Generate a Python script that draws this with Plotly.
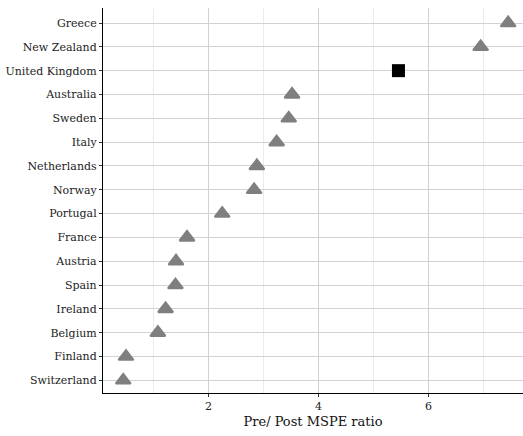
import plotly.graph_objects as go

# Pre/post MSPE ratio per country, ordered from bottom to top
countries = ["Switzerland", "Finland", "Belgium", "Ireland", "Spain", "Austria",
             "France", "Portugal", "Norway", "Netherlands", "Italy", "Sweden",
             "Australia", "United Kingdom", "New Zealand", "Greece"]
ratios = [0.45, 0.50, 1.08, 1.22, 1.40, 1.41, 1.61, 2.25, 2.83, 2.88, 3.24,
          3.46, 3.52, 5.455, 6.95, 7.45]
treated = "United Kingdom"

donor_c = [c for c in countries if c != treated]
donor_v = [v for c, v in zip(countries, ratios) if c != treated]
treat_v = [v for c, v in zip(countries, ratios) if c == treated]

font_family = "DejaVu Serif, Liberation Serif, serif"

fig = go.Figure()
fig.add_trace(go.Scatter(
    x=donor_v, y=donor_c, mode="markers",
    marker=dict(symbol="triangle-up", size=13, color="#7f7f7f",
                line=dict(color="#7f7f7f", width=2)),
    showlegend=False,
))
fig.add_trace(go.Scatter(
    x=treat_v, y=[treated], mode="markers",
    marker=dict(symbol="square", size=13, color="black", line=dict(width=0)),
    showlegend=False,
))

fig.update_layout(
    width=523, height=436,
    margin=dict(l=103, r=0, t=8, b=43),
    paper_bgcolor="white", plot_bgcolor="white",
    font=dict(family=font_family, color="#222222", size=11),
    xaxis=dict(
        range=[0.082, 7.72], tickvals=[2, 4, 6], ticktext=["2", "4", "6"],
        showgrid=True, gridcolor="#d2d2d2", gridwidth=1.3,
        minor=dict(tickvals=[1, 3, 5, 7], showgrid=True, gridcolor="#ebebeb",
                   gridwidth=1),
        showline=True, linecolor="black", linewidth=1.2,
        ticks="outside", ticklen=3, tickcolor="#333333", tickwidth=1,
        tickfont=dict(size=11, color="#222222"),
        title=dict(text="Pre/ Post MSPE ratio", font=dict(size=13, color="#111111"),
                   standoff=4),
        zeroline=False,
    ),
    yaxis=dict(
        type="category", categoryorder="array", categoryarray=countries,
        range=[-0.53, 15.63],
        showgrid=True, gridcolor="#d2d2d2", gridwidth=1.3,
        showline=True, linecolor="black", linewidth=1.2,
        ticks="outside", ticklen=3, tickcolor="#333333", tickwidth=1,
        tickfont=dict(size=11, color="#222222"),
        zeroline=False,
    ),
)

fig.write_html("out.html")
